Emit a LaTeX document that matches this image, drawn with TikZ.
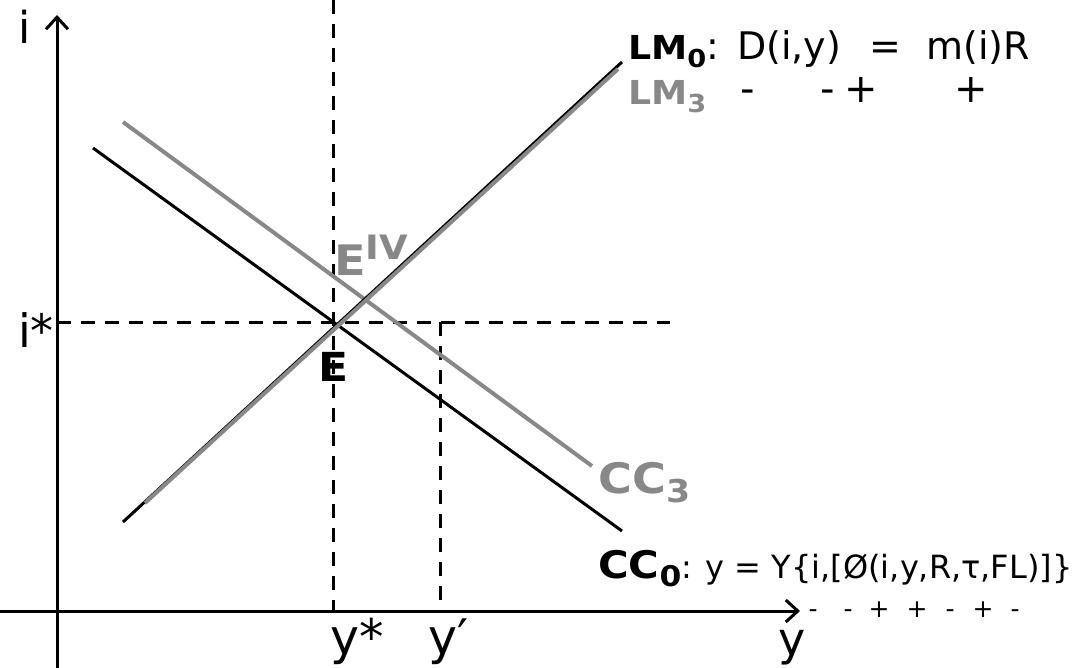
\documentclass[tikz,border=0pt]{standalone}
\usepackage{fontspec}
\setmainfont{DejaVu Sans}
\newfontfamily\wb{DejaVu Sans}[FakeStretch=1.1]
\usetikzlibrary{arrows.meta}
\definecolor{lgray}{RGB}{136,136,136}
\newcommand\mysub[1]{\raisebox{-0.22em}{\scalebox{0.75}{#1}}}
\newcommand\mysup[1]{\raisebox{0.40em}{\scalebox{0.8}{#1}}}
\newcommand\fsz[1]{\fontsize{#1}{#1}\selectfont}
\begin{document}
\begin{tikzpicture}[x=1pt,y=-1pt,
  axis/.style={line width=3pt, -{Straight Barb[length=12pt,width=22pt,line width=3pt]}},
  guide/.style={line width=3pt, dash pattern=on 14pt off 10pt},
  curve/.style={line width=3pt},
  gcurve/.style={line width=4pt, lgray},
  lab/.style={inner sep=0pt, anchor=base west},
  labc/.style={inner sep=0pt, anchor=base},
  bl/.style={inner sep=0pt, anchor=base west, font=\wb\bfseries\fsz{#1}},
  sgn/.style={inner sep=0pt, anchor=base, font=\fsz{40}},
  sgnb/.style={inner sep=0pt, anchor=base, font=\fsz{25}}]
\useasboundingbox (0,0) rectangle (1086,668);
% axes
\coordinate (yb) at (57,668); \coordinate (yt) at (57,15);
\coordinate (xl) at (0,611); \coordinate (xr) at (800,611);
% guides
\coordinate (g1t) at (333,0); \coordinate (g1b) at (333,611);
\coordinate (g2l) at (57,322); \coordinate (g2r) at (670,322);
\coordinate (g3t) at (440,322); \coordinate (g3b) at (440,611);
\draw[guide] (g1t) -- (g1b);
\draw[guide] (g2l) -- (g2r);
\draw[guide] (g3t) -- (g3b);
\draw[axis] (yb) -- (yt);
\draw[axis] (xl) -- (xr);
% curves
\coordinate (cc3a) at (123,122); \coordinate (cc3b) at (592,466);
\coordinate (cc0a) at (93,148); \coordinate (cc0b) at (622,531);
\coordinate (lm0a) at (123,522); \coordinate (lm0b) at (622,62);
\coordinate (lm3a) at (145,503); \coordinate (lm3b) at (618,69);
\draw[gcurve] (cc3a) -- (cc3b);
\draw[curve] (cc0a) -- (cc0b);
\draw[curve] (lm0a) -- (lm0b);
\draw[gcurve] (lm3a) -- (lm3b);
% axis labels
\node[labc, font=\fsz{44}] (ilab) at (25,44) {i};
\node[inner sep=0pt, anchor=base east, font=\fsz{46}] (istar) at (54,347) {i*};
\node[labc, font=\fsz{49}] (ystar) at (357,654) {y*};
\node[labc, font=\fsz{49}] (yprime) at (449,654) {y′};
\node[labc, font=\fsz{46}] (ylab) at (792,655) {y};
% points
\node[bl=42, text=lgray] (eiv) at (334,276) {E\mysup{IV}};
\node[inner sep=0pt, anchor=base, font=\wb\bfseries\fsz{40}] (e) at (334,381) {E};
% curve labels
\node[bl=42, text=lgray] (cc3) at (598,493) {CC\mysub{3}};
\node[bl=33] (lm0) at (628,60) {LM\mysub{0}\normalfont\fsz{38}:};
\node[lab, font=\fsz{38}] (lmd) at (737,60) {D(i,y)};
\node[labc, font=\fsz{38}] (lmeq) at (885,60) {=};
\node[inner sep=0pt, anchor=base east, font=\fsz{38}] (lmm) at (1030,60) {m(i)R};
\node[bl=33, text=lgray] (lm3) at (628,105) {LM\mysub{3}};
\node[sgn] (s1) at (748,103) {-};
\node[sgn] (s2) at (828,103) {-};
\node[sgn] (s3) at (861,103) {+};
\node[sgn] (s4) at (971,103) {+};
\node[bl=38] (cc0) at (598,578) {CC\mysub{0}\normalfont\fsz{32}: y = Y\{i,[Ø(i,y,R,τ,FL)]\}};
\node[sgnb] (b1) at (813,617) {-};
\node[sgnb] (b2) at (848,617) {-};
\node[sgnb] (b3) at (879,617) {+};
\node[sgnb] (b4) at (917,617) {+};
\node[sgnb] (b5) at (950,617) {-};
\node[sgnb] (b6) at (983,617) {+};
\node[sgnb] (b7) at (1015,617) {-};
\end{tikzpicture}
\end{document}
